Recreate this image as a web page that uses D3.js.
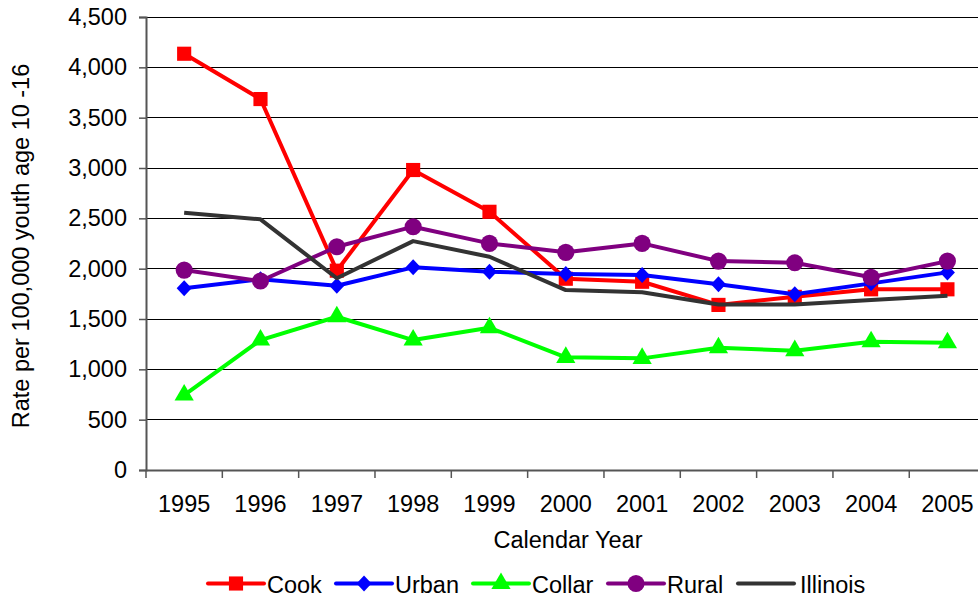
<!DOCTYPE html>
<html><head><meta charset="utf-8">
<script src="https://cdn.jsdelivr.net/npm/d3@7"></script>
<style>body{margin:0;background:#fff}svg{display:block}text{font-family:"Liberation Sans",Arial,sans-serif;fill:#000}</style>
</head><body>
<svg id="c" width="978" height="599"></svg>
<script>
const years = ["1995","1996","1997","1998","1999","2000","2001","2002","2003","2004","2005"];
const cook = [4135,3685,1980,2980,2565,1900,1870,1640,1720,1795,1795];
const urban = [1805,1895,1830,2013,1970,1946,1936,1845,1745,1854,1963];
const collar = [745,1291,1522,1291,1413,1119,1109,1214,1185,1274,1264];
const rural = [1986,1877,2218,2417,2251,2162,2251,2075,2059,1915,2075];
const illinois = [2555,2490,1905,2274,2118,1787,1765,1645,1645,1688,1731];
const yTicks = [0,500,1000,1500,2000,2500,3000,3500,4000,4500];
const seriesNames = ["Cook","Urban","Collar","Rural","Illinois"];
const seriesColors = ["#FF0000","#0000FF","#00FF00","#800080","#333333"];
const seriesMarkers = ["square","diamond","triangle","circle","none"];
const seriesValues = [cook,urban,collar,rural,illinois];

const svg = d3.select("#c");
const L = 146, R = 985.6, T = 17, B = 470;
const x = d3.scaleBand().domain(years).range([L,R]);
const y = d3.scaleLinear().domain([0,4500]).range([B,T]);
const fs = 23.5;

// gridlines
svg.append("g").selectAll("line").data(yTicks.filter(d=>d>0)).join("line")
  .attr("x1",L).attr("x2",978).attr("y1",d=>y(d)).attr("y2",d=>y(d))
  .attr("stroke","#000").attr("stroke-width",1).attr("shape-rendering","crispEdges");

// y axis
const ya = svg.append("g").attr("transform",`translate(${L},0)`)
  .call(d3.axisLeft(y).tickValues(yTicks).tickFormat(d3.format(",")).tickSize(7).tickPadding(12));
ya.select(".domain").attr("stroke","#555").attr("stroke-width",2);
ya.selectAll(".tick line").attr("stroke","#555").attr("stroke-width",1.5);
ya.selectAll("text").attr("font-size",fs).style("font-family","Liberation Sans, Arial, sans-serif");

// x axis
const xa = svg.append("g").attr("transform",`translate(0,${B})`)
  .call(d3.axisBottom(x).tickSize(0).tickPadding(0));
xa.select(".domain").attr("stroke","#555").attr("stroke-width",2);
xa.selectAll("text").attr("font-size",fs).attr("y",42).attr("dy",null).style("font-family","Liberation Sans, Arial, sans-serif");
svg.append("g").selectAll("line").data(years).join("line")
  .attr("x1",d=>x(d)).attr("x2",d=>x(d)).attr("y1",B).attr("y2",B+8)
  .attr("stroke","#555").attr("stroke-width",1.5);

// titles
svg.append("text").attr("x",568).attr("y",548).attr("text-anchor","middle").attr("font-size",fs).text("Calendar Year");
svg.append("text").attr("transform","translate(28.5,246) rotate(-90)").attr("text-anchor","middle").attr("font-size",fs).text("Rate per 100,000 youth age 10 -16");

const cx = d => x(d) + x.bandwidth()/2;
const symType = {square:d3.symbolSquare, triangle:d3.symbolTriangle, circle:d3.symbolCircle};
const symSize = {square:200, triangle:160, circle:230};

function drawMarker(g, m, col, px, py){
  if(m==="none") return;
  if(m==="diamond"){
    g.append("path").attr("d",`M${px},${py-8}L${px+7.5},${py}L${px},${py+8}L${px-7.5},${py}Z`).attr("fill",col);
  } else {
    g.append("path").attr("d",d3.symbol().type(symType[m]).size(symSize[m])())
      .attr("transform",`translate(${px},${py})`).attr("fill",col);
  }
}

const line = d3.line().x((d,i)=>cx(years[i])).y(d=>y(d));
seriesValues.forEach((vals,si)=>{
  const g = svg.append("g");
  g.append("path").datum(vals).attr("d",line).attr("fill","none")
    .attr("stroke",seriesColors[si]).attr("stroke-width",4).attr("stroke-linejoin","round");
  vals.forEach((v,i)=>drawMarker(g, seriesMarkers[si], seriesColors[si], cx(years[i]), y(v)));
});

// legend
const legX = [208,336,473,608,738];
const ly = 583.5;
seriesNames.forEach((n,i)=>{
  const g = svg.append("g");
  const x0 = legX[i], x1 = x0 + 56;
  g.append("line").attr("x1",x0).attr("x2",x1).attr("y1",ly).attr("y2",ly)
    .attr("stroke",seriesColors[i]).attr("stroke-width",4).attr("stroke-linecap","round");
  drawMarker(g, seriesMarkers[i], seriesColors[i], (x0+x1)/2, ly);
  g.append("text").attr("x", x1 + (i===4?6:3)).attr("y",592.5).attr("font-size",fs).text(n);
});
</script>
</body></html>
